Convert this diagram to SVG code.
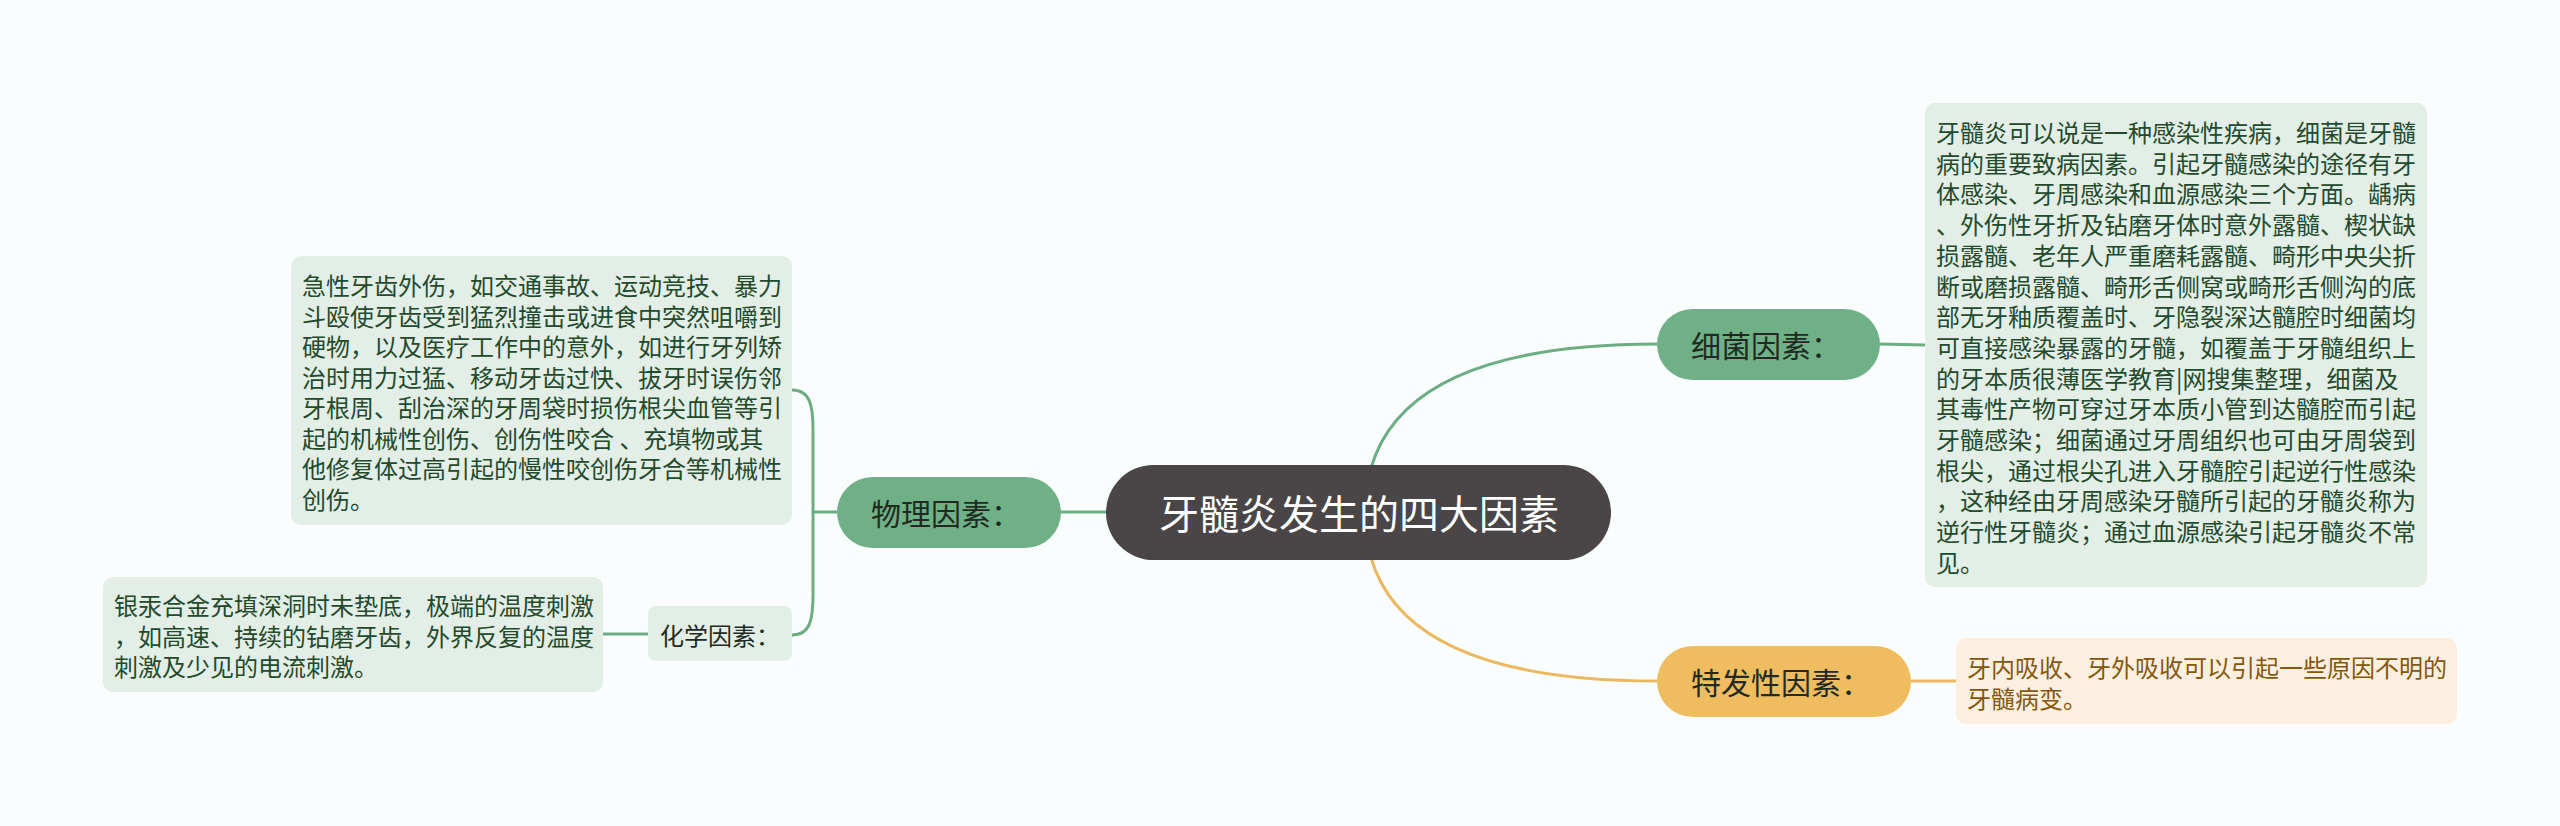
<svg xmlns="http://www.w3.org/2000/svg" width="2560" height="826" viewBox="0 0 2560 826">
<style>
text{font-family:"Noto Sans CJK SC","Noto Sans",sans-serif;dominant-baseline:central}
.bg{fill:#fafdfd}
.gline{fill:none;stroke:#6dad84;stroke-width:3}
.yline{fill:none;stroke:#ebb862;stroke-width:3}
.gnode{fill:#70b086}
.ynode{fill:#f0bc60}
.center{fill:#4a4546}
.gbox{fill:#e3eee6}
.ybox{fill:#fcefe0}
.ntext{font-size:30px;fill:#1f2a22}
.ctext{font-size:40px;fill:#ffffff}
.btext{font-size:24px;fill:#234a2d}
.ytext{font-size:24px;fill:#85570f}
.stext{font-size:24px;fill:#1f2a22}
</style>
<rect class="bg" x="0" y="0" width="2560" height="826"/>
<g id="connectors">
  <path class="gline" d="M1365 513 Q1365 344 1657 344"/>
  <path class="yline" d="M1365 513 Q1365 681 1657 681"/>
  <path class="gline" d="M1061 512 L1106 512"/>
  <path class="gline" d="M813 512 L837 512"/>
  <path class="gline" d="M792 390 C810 390 813 405 813 430 L813 595 C813 620 810 635 792 635"/>
  <path class="gline" d="M603 634 L648 634"/>
  <path class="gline" d="M1880 344 L1925 345"/>
  <path class="yline" d="M1911 681 L1956 681"/>
</g>
<g id="root">
  <rect class="center" x="1106" y="465" width="505" height="95" rx="47.5"/>
  <text class="ctext" x="1359" y="512" text-anchor="middle">牙髓炎发生的四大因素</text>
</g>
<g id="n-wuli">
  <rect class="gnode" x="837" y="477" width="224" height="71" rx="35.5"/>
  <text class="ntext" x="871" y="512">物理因素：</text>
</g>
<g id="n-wuli-detail">
  <rect class="gbox" x="291" y="256" width="501" height="269" rx="10"/>
  <text class="btext">
    <tspan x="302" y="284">急性牙齿外伤，如交通事故、运动竞技、暴力</tspan>
    <tspan x="302" y="314.5">斗殴使牙齿受到猛烈撞击或进食中突然咀嚼到</tspan>
    <tspan x="302" y="345">硬物，以及医疗工作中的意外，如进行牙列矫</tspan>
    <tspan x="302" y="375.5">治时用力过猛、移动牙齿过快、拔牙时误伤邻</tspan>
    <tspan x="302" y="406">牙根周、刮治深的牙周袋时损伤根尖血管等引</tspan>
    <tspan x="302" y="436.5">起的机械性创伤、创伤性咬合 、充填物或其</tspan>
    <tspan x="302" y="467">他修复体过高引起的慢性咬创伤牙合等机械性</tspan>
    <tspan x="302" y="497.5">创伤。</tspan>
  </text>
</g>
<g id="n-huaxue">
  <rect class="gbox" x="648" y="606" width="144" height="55" rx="8"/>
  <text class="stext" x="660" y="634">化学因素：</text>
</g>
<g id="n-huaxue-detail">
  <rect class="gbox" x="103" y="577" width="500" height="115" rx="10"/>
  <text class="btext">
    <tspan x="114" y="604">银汞合金充填深洞时未垫底，极端的温度刺激</tspan>
    <tspan x="114" y="634.5">，如高速、持续的钻磨牙齿，外界反复的温度</tspan>
    <tspan x="114" y="665">刺激及少见的电流刺激。</tspan>
  </text>
</g>
<g id="n-xijun">
  <rect class="gnode" x="1657" y="309" width="223" height="71" rx="35.5"/>
  <text class="ntext" x="1691" y="344">细菌因素：</text>
</g>
<g id="n-xijun-detail">
  <rect class="gbox" x="1925" y="103" width="502" height="484" rx="10"/>
  <text class="btext">
    <tspan x="1936" y="131">牙髓炎可以说是一种感染性疾病，细菌是牙髓</tspan>
    <tspan x="1936" y="161.7">病的重要致病因素。引起牙髓感染的途径有牙</tspan>
    <tspan x="1936" y="192.4">体感染、牙周感染和血源感染三个方面。龋病</tspan>
    <tspan x="1936" y="223.1">、外伤性牙折及钻磨牙体时意外露髓、楔状缺</tspan>
    <tspan x="1936" y="253.8">损露髓、老年人严重磨耗露髓、畸形中央尖折</tspan>
    <tspan x="1936" y="284.5">断或磨损露髓、畸形舌侧窝或畸形舌侧沟的底</tspan>
    <tspan x="1936" y="315.2">部无牙釉质覆盖时、牙隐裂深达髓腔时细菌均</tspan>
    <tspan x="1936" y="345.9">可直接感染暴露的牙髓，如覆盖于牙髓组织上</tspan>
    <tspan x="1936" y="376.6">的牙本质很薄医学教育|网搜集整理，细菌及</tspan>
    <tspan x="1936" y="407.3">其毒性产物可穿过牙本质小管到达髓腔而引起</tspan>
    <tspan x="1936" y="438">牙髓感染；细菌通过牙周组织也可由牙周袋到</tspan>
    <tspan x="1936" y="468.7">根尖，通过根尖孔进入牙髓腔引起逆行性感染</tspan>
    <tspan x="1936" y="499.4">，这种经由牙周感染牙髓所引起的牙髓炎称为</tspan>
    <tspan x="1936" y="530.1">逆行性牙髓炎；通过血源感染引起牙髓炎不常</tspan>
    <tspan x="1936" y="560.8">见。</tspan>
  </text>
</g>
<g id="n-tefa">
  <rect class="ynode" x="1657" y="646" width="254" height="71" rx="35.5"/>
  <text class="ntext" x="1691" y="681">特发性因素：</text>
</g>
<g id="n-tefa-detail">
  <rect class="ybox" x="1956" y="638" width="501" height="86" rx="10"/>
  <text class="ytext">
    <tspan x="1967" y="665.5">牙内吸收、牙外吸收可以引起一些原因不明的</tspan>
    <tspan x="1967" y="696.5">牙髓病变。</tspan>
  </text>
</g>
</svg>
